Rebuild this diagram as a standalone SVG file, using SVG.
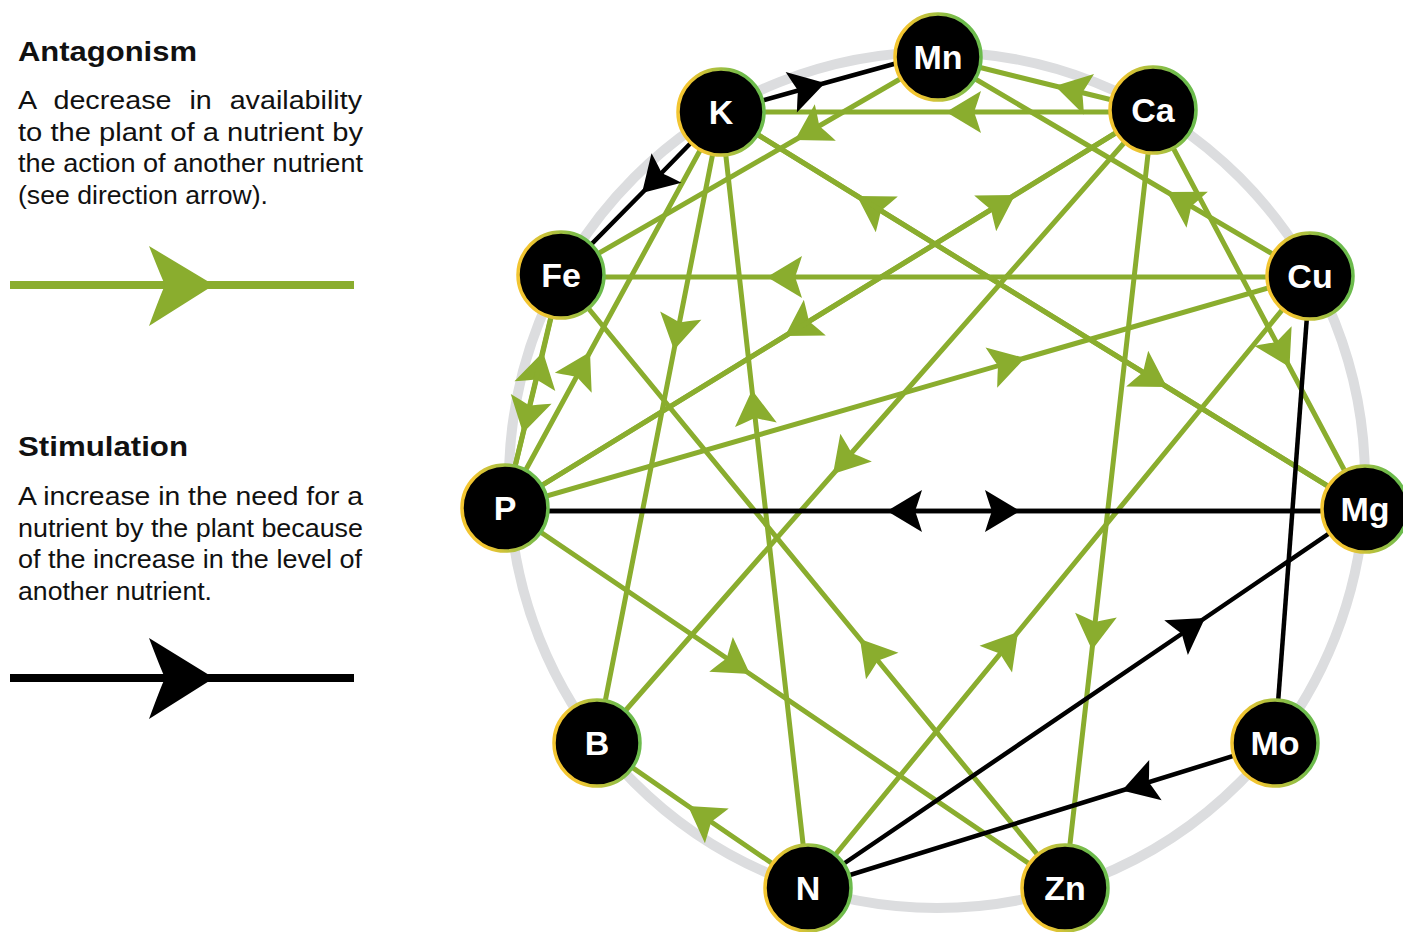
<svg xmlns="http://www.w3.org/2000/svg" width="1403" height="932" viewBox="0 0 1403 932">
<style>
.ring{fill:none;stroke:#dcdddf;stroke-width:10}
.g{fill:none;stroke:#8aad2e;stroke-width:5;marker-mid:url(#ag)}
.k{fill:none;stroke:#000;stroke-width:4.5;marker-mid:url(#ak)}
.k0{fill:none;stroke:#000;stroke-width:4.5}
.node circle{fill:#000;stroke:url(#bd);stroke-width:3.5}
.node text{fill:#fff;font-family:"Liberation Sans",Arial,sans-serif;font-weight:bold;font-size:34px;text-anchor:middle}
.title{font-family:"Liberation Sans",Arial,sans-serif;font-weight:bold;font-size:28px;fill:#111}
.body{font-family:"Liberation Sans",Arial,sans-serif;font-size:26px;fill:#111}
</style>
<defs>
<linearGradient id="bd" x1="0" y1="0.6" x2="1" y2="0.4">
<stop offset="0.2" stop-color="#f2c531"/>
<stop offset="0.85" stop-color="#6cbb4c"/>
</linearGradient>
<marker id="ag" markerUnits="userSpaceOnUse" viewBox="-40 -25 45 50" markerWidth="45" markerHeight="50" refX="0" refY="0" orient="auto">
<path d="M0,0 L-35,-21 Q-30,-5 -28,0 Q-30,5 -35,21 Z" fill="#8aad2e"/>
</marker>
<marker id="ak" markerUnits="userSpaceOnUse" viewBox="-40 -25 45 50" markerWidth="45" markerHeight="50" refX="0" refY="0" orient="auto">
<path d="M0,0 L-35,-21 Q-30,-5 -28,0 Q-30,5 -35,21 Z" fill="#000"/>
</marker>
</defs>

<g id="legend">
<text class="title" x="18" y="61" textLength="179" lengthAdjust="spacingAndGlyphs">Antagonism</text>
<text class="body" x="18" y="109" word-spacing="9" textLength="344" lengthAdjust="spacingAndGlyphs">A decrease in availability</text>
<text class="body" x="18" y="141" textLength="345" lengthAdjust="spacingAndGlyphs">to the plant of a nutrient by</text>
<text class="body" x="18" y="172" textLength="345" lengthAdjust="spacingAndGlyphs">the action of another nutrient</text>
<text class="body" x="18" y="204" textLength="250" lengthAdjust="spacingAndGlyphs">(see direction arrow).</text>
<line x1="10" y1="285" x2="354" y2="285" stroke="#8aad2e" stroke-width="8"/>
<path d="M214,285 L149,246 Q160,274 165,285 Q160,296 149,326 Z" fill="#8aad2e"/>
<text class="title" x="18" y="456" textLength="170" lengthAdjust="spacingAndGlyphs">Stimulation</text>
<text class="body" x="18" y="505" textLength="345" lengthAdjust="spacingAndGlyphs">A increase in the need for a</text>
<text class="body" x="18" y="537" textLength="345" lengthAdjust="spacingAndGlyphs">nutrient by the plant because</text>
<text class="body" x="18" y="568" textLength="344" lengthAdjust="spacingAndGlyphs">of the increase in the level of</text>
<text class="body" x="18" y="600" textLength="194" lengthAdjust="spacingAndGlyphs">another nutrient.</text>
<line x1="10" y1="678" x2="354" y2="678" stroke="#000" stroke-width="8"/>
<path d="M214,678 L149,638 Q160,667 165,678 Q160,689 149,719 Z" fill="#000"/>
</g>

<circle class="ring" cx="937" cy="480" r="428"/>

<g id="connectors">
<path class="g" d="M1153,112 L946,112 L721,112"/>
<path class="g" d="M1153,110 L1055,86 L938,57"/>
<path class="g" d="M938,57 L795,140 L561,275"/>
<path class="g" d="M1310,276 L1167,192 L938,57"/>
<path class="g" d="M1310,277 L767,277 L561,277"/>
<path class="g" d="M505,508 L590,352 L721,112"/>
<path class="g" d="M721,112 L674,350 L597,743"/>
<path class="g" d="M808,888 L752,390 L721,112"/>
<path class="g" d="M505,508 L543,352 L561,275"/>
<path class="g" d="M561,275 L523,433 L505,508"/>
<path class="g" d="M1153,110 L785,336 L505,508"/>
<path class="g" d="M505,508 L1015,195 L1153,110"/>
<path class="g" d="M505,508 L1025,358 L1310,276"/>
<path class="g" d="M505,508 L750,674 L1065,888"/>
<path class="g" d="M1065,888 L860,639 L561,275"/>
<path class="g" d="M1153,110 L833,474 L597,743"/>
<path class="g" d="M1153,110 L1092,650 L1065,888"/>
<path class="g" d="M1153,110 L1289.5,367 L1365,509"/>
<path class="g" d="M1365,509 L857,196 L721,112"/>
<path class="g" d="M721,112 L1167,387 L1365,509"/>
<path class="g" d="M808,888 L1018,632 L1310,276"/>
<path class="g" d="M808,888 L688,806 L597,743"/>
<path class="k" d="M721,112 L825,83 L930,54"/>
<path class="k" d="M721,112 L642,193 L561,275"/>
<path class="k" d="M1365,511 L887,511 L505,511"/>
<path class="k" d="M505,511 L1020,511 L1365,511"/>
<path class="k" d="M808,888 L1205,618 L1365,509"/>
<path class="k" d="M1275,743 L1122,790.5 L808,888"/>
<path class="k0" d="M1310,276 L1275,743"/>
</g>

<g id="node-Mn" class="node"><circle cx="938" cy="57" r="43"/><text x="938" y="69">Mn</text></g>
<g id="node-K" class="node"><circle cx="721" cy="112" r="43"/><text x="721" y="124">K</text></g>
<g id="node-Ca" class="node"><circle cx="1153" cy="110" r="43"/><text x="1153" y="122">Ca</text></g>
<g id="node-Fe" class="node"><circle cx="561" cy="275" r="43"/><text x="561" y="287">Fe</text></g>
<g id="node-Cu" class="node"><circle cx="1310" cy="276" r="43"/><text x="1310" y="288">Cu</text></g>
<g id="node-P" class="node"><circle cx="505" cy="508" r="43"/><text x="505" y="520">P</text></g>
<g id="node-Mg" class="node"><circle cx="1365" cy="509" r="43"/><text x="1365" y="521">Mg</text></g>
<g id="node-B" class="node"><circle cx="597" cy="743" r="43"/><text x="597" y="755">B</text></g>
<g id="node-Mo" class="node"><circle cx="1275" cy="743" r="43"/><text x="1275" y="755">Mo</text></g>
<g id="node-N" class="node"><circle cx="808" cy="888" r="43"/><text x="808" y="900">N</text></g>
<g id="node-Zn" class="node"><circle cx="1065" cy="888" r="43"/><text x="1065" y="900">Zn</text></g>
</svg>
